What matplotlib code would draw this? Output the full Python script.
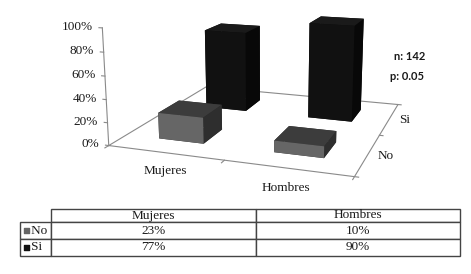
import matplotlib
matplotlib.use('Agg')
import matplotlib.pyplot as plt

plt.rcParams['font.family'] = ['Liberation Serif', 'DejaVu Sans']

categories = ['Mujeres', 'Hombres']
series = ['No', 'Si']
no_values = [23, 10]
si_values = [77, 90]
z_ticks = [0, 20, 40, 60, 80, 100]

W, H = 471, 274
LINE = '#8a8a8a'
TEXT = '#1a1a1a'
# faces: -z, +z, -y, +y, -x, +x
NO_FACES = ['#2c2c2c', '#3c3c3c', '#666666', '#2c2c2c', '#2c2c2c', '#2e2e2e']
SI_FACES = ['#0a0a0a', '#1a1a1a', '#111111', '#0a0a0a', '#0a0a0a', '#080808']

fig = plt.figure(figsize=(W / 100, H / 100), dpi=100)

# 3d chart, axes box fitted to the picture in pixels
side = 330.3
ax = fig.add_axes([96.65 / W, 34.0 / H, side / W, side / H], projection='3d')
ax.computed_zorder = False
ax.set_axis_off()
ax.patch.set_visible(False)

# floor outline and axis lines
kw = dict(color=LINE, lw=0.8, zorder=1)
ax.plot([0, 2, 2, 0, 0], [0, 0, 2, 2, 0], [0, 0, 0, 0, 0], **kw)
ax.plot([0, 0], [0, 0], [0, 100], **kw)

# ticks
for z in z_ticks:
    ax.plot([-0.03, 0], [0, 0], [z, z], **kw)
    ax.text(-0.085, 0, z, f'{z}%', ha='right', va='center', fontsize=9.5, color=TEXT)
for i in range(len(categories) + 1):
    ax.plot([i, i], [-0.06, 0], [0, 0], **kw)
for i in range(len(series) + 1):
    ax.plot([2, 2.03], [i, i], [0, 0], **kw)

# labels sit off the floor, nudged by eye
for i, name in enumerate(categories):
    ax.text(0.68 + i * 0.92, -0.36, 0, name, ha='center', va='center', fontsize=9.5, color=TEXT)
for i, name in enumerate(series):
    ax.text(2.14, i + 0.5, 0, name, ha='center', va='center', fontsize=9.5, color=TEXT)

# back row first so the front bars sit on top
for i in range(len(categories)):
    ax.bar3d(i + 0.3, 1.3, 0, 0.4, 0.4, si_values[i], color=SI_FACES, shade=False,
             linewidth=0, zorder=2)
for i in range(len(categories)):
    ax.bar3d(i + 0.3, 0.3, 0, 0.4, 0.4, no_values[i], color=NO_FACES, shade=False,
             linewidth=0, zorder=3)

ax.set_xlim(0, 2)
ax.set_ylim(0, 2)
ax.set_zlim(0, 100)
ax.view_init(elev=13.656, azim=-70.828, roll=0.004)
ax.set_proj_type('persp', focal_length=0.404)
ax.set_box_aspect((2.093, 2.017, 1))

fig.text(410 / W, 1 - 56 / H, 'n: 142', family='Lato', weight='bold', fontsize=8,
         ha='center', va='center', color=TEXT)
fig.text(407 / W, 1 - 76 / H, 'p: 0.05', family='Lato', weight='bold', fontsize=8,
         ha='center', va='center', color=TEXT)

# data table under the chart
tab = fig.add_axes([20 / W, (H - 256) / H, 440 / W, 47 / H])
tab.set_xlim(20, 460)
tab.set_ylim(256, 209)
tab.axis('off')
rows = [['', categories[0], categories[1]]]
rows.append(['   ' + series[0], f'{no_values[0]}%', f'{no_values[1]}%'])
rows.append(['   ' + series[1], f'{si_values[0]}%', f'{si_values[1]}%'])
table = tab.table(cellText=rows, cellLoc='center', bbox=[0, 0, 1, 1],
                  colWidths=[31 / 440, 205 / 440, 204 / 440])
table.auto_set_font_size(False)
table.set_fontsize(9.5)
for (r, c), cell in table.get_celld().items():
    cell.set_edgecolor('#444444')
    cell.set_linewidth(1.0)
    cell.get_text().set_color(TEXT)
    cell.set_height({0: 13 / 47, 1: 17 / 47, 2: 17 / 47}[r])
    if c == 0:
        cell.get_text().set_ha('left')
        cell.PAD = 0.03
table[0, 0].visible_edges = 'open'
table[0, 0].set_facecolor('none')
tab.scatter([26.5, 26.5], [230.5, 247.5], marker='s', s=11, c=['#666666', '#111111'], zorder=5)

fig.savefig('out.png', dpi=100)
plt.close()
